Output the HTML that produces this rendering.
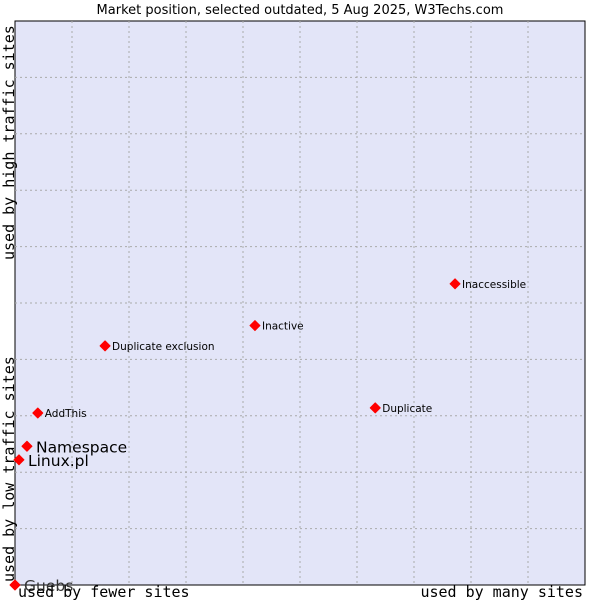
<!DOCTYPE html>
<html><head><meta charset="utf-8"><style>
body{margin:0;background:#fff;}
svg text{font-family:"DejaVu Sans","Liberation Sans",sans-serif;}
.mono{font-family:"DejaVu Sans Mono","Liberation Mono",monospace;}
</style></head><body>
<svg id="chart" width="600" height="600" xmlns="http://www.w3.org/2000/svg">
<text x="300" y="14" font-size="13" text-anchor="middle" fill="#000">Market position, selected outdated, 5 Aug 2025, W3Techs.com</text>
<rect x="15" y="21" width="570" height="564" fill="#e3e5f8" stroke="#000" stroke-width="1"/>
<g id="grid"></g>
<g id="points"></g>
<text class="mono" x="18" y="597" font-size="15">used by fewer sites</text>
<text class="mono" x="583" y="597" font-size="15" text-anchor="end">used by many sites</text>
<text class="mono" transform="translate(14,582) rotate(-90)" font-size="15">used by low traffic sites</text>
<text class="mono" transform="translate(14,260) rotate(-90)" font-size="15">used by high traffic sites</text>
</svg>
<script>
const names=["Guebs","Linux.pl","Namespace","AddThis","Duplicate exclusion","Inactive","Duplicate","Inaccessible"];
const xVals=[0,0.7,2.1,4,15.8,42.1,63.2,77.2];
const yVals=[0,22.2,24.6,30.5,42.4,46.0,31.4,53.4];
const bigLabel=[true,true,true,false,false,false,false,false];
const X0=15,X1=585,Y0=585,Y1=21;
const sx=v=>X0+(X1-X0)*v/100;
const sy=v=>Y0-(Y0-Y1)*v/100;
const NS="http://www.w3.org/2000/svg";
const g=document.getElementById('grid');
for(let i=1;i<10;i++){
  const l=document.createElementNS(NS,'line');
  
  
  l.setAttribute('x1',sx(i*10));l.setAttribute('x2',sx(i*10));l.setAttribute('y1',Y1);l.setAttribute('y2',Y0);
  l.setAttribute('stroke','#aaa');l.setAttribute('stroke-dasharray','2,3');g.appendChild(l);
  const h=document.createElementNS(NS,'line');
  
  
  h.setAttribute('x1',X0);h.setAttribute('x2',X1);h.setAttribute('y1',sy(i*10));h.setAttribute('y2',sy(i*10));
  h.setAttribute('stroke','#aaa');h.setAttribute('stroke-dasharray','2,3');g.appendChild(h);
}
const p=document.getElementById('points');
names.forEach((n,i)=>{
  const x=sx(xVals[i]),y=sy(yVals[i]);
  const d=document.createElementNS(NS,'path');
  
  
  d.setAttribute('d',`M${x-5},${y} L${x},${y-5} L${x+5},${y} L${x},${y+5} Z`);
  d.setAttribute('fill','#f00');d.setAttribute('stroke','#f00');d.setAttribute('stroke-width','1');d.setAttribute('stroke-linejoin','round');
  p.appendChild(d);
  const t=document.createElementNS(NS,'text');
  
  
  t.setAttribute('x',x+(bigLabel[i]?9:7));t.setAttribute('y',y+(bigLabel[i]?6:4));
  t.setAttribute('font-size',bigLabel[i]?'15.5':'10.5');
  t.setAttribute('fill',i===0?'#333':'#000');
  t.textContent=n;p.appendChild(t);
});
</script>
</body></html>
